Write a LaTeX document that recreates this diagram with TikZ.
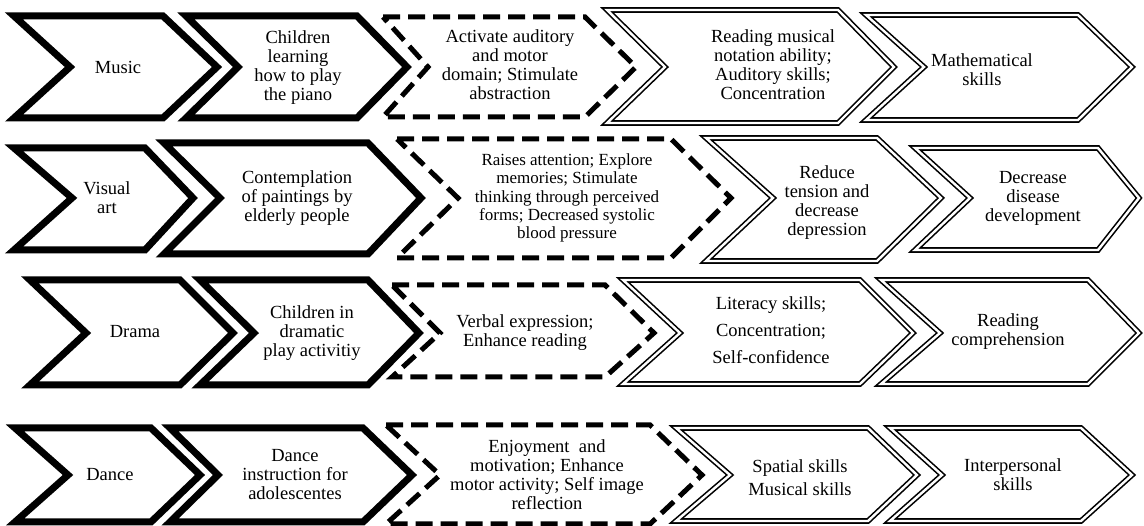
\documentclass[tikz,border=0pt]{standalone}
\usepackage{fontspec}
\setmainfont{Liberation Serif}
\tikzset{
  heavy/.style={line width=7pt,line join=miter},
  dashline/.style={line width=5pt,line join=miter,dash pattern=on 17pt off 8pt},
  twin/.style={line width=1.6pt,double distance=2.4pt,line join=miter},
  lbl/.style={align=center,font=\fontsize{18.5}{19}\selectfont},
}
\begin{document}
\begin{tikzpicture}[x=1pt,y=-1pt]
\useasboundingbox (0,0) rectangle (1144,526);

%row 1 - music
\draw[heavy] (14,16) -- (163,16) -- (217,67) -- (163,118) -- (14,118) -- (70,67) -- cycle;
\draw[heavy] (186,16) -- (357,16) -- (407,67) -- (357,118) -- (186,118) -- (238,67) -- cycle;
\draw[dashline] (383,17) -- (585,17) -- (636,67) -- (585,117) -- (383,117) -- (428,67) -- cycle;
\draw[twin] (607,10) -- (838,10) -- (894,67) -- (838,123) -- (607,123) -- (665,67) -- cycle;
\draw[twin] (866,15) -- (1078,15) -- (1132,67) -- (1078,120) -- (866,120) -- (924,67) -- cycle;

\node[lbl] (music) at (118,67) {Music};
\node[lbl] (piano) at (298,68) {Children\\learning\\how to play\\the piano};
\node[lbl] (auditory) at (510,65) {Activate auditory\\and motor\\domain; Stimulate\\abstraction};
\node[lbl] (notation) at (773,65) {Reading musical\\notation ability;\\Auditory skills;\\Concentration};
\node[lbl] (math) at (982,70) {Mathematical\\skills};

%row 2 - visual art
\draw[heavy] (14,148) -- (145,148) -- (193,198) -- (145,250) -- (14,250) -- (72,198) -- cycle;
\draw[heavy] (164,143) -- (368,143) -- (421,198) -- (368,254) -- (164,254) -- (220,198) -- cycle;
\draw[dashline] (397,139) -- (671,139) -- (731,198) -- (671,258) -- (397,258) -- (458,198) -- cycle;
\draw[twin] (706,138) -- (877,138) -- (941,198) -- (877,261) -- (706,261) -- (773,198) -- cycle;
\draw[twin] (915,148) -- (1098,148) -- (1139,198) -- (1098,250) -- (915,250) -- (970,198) -- cycle;

\node[lbl] (visual) at (107,198) {Visual\\art};
\node[lbl] (paintings) at (297,198) {Contemplation\\of paintings by\\elderly people};
\node[lbl,font=\fontsize{17}{18.3}\selectfont] (attention) at (567,198) {Raises attention; Explore\\memories; Stimulate\\thinking through perceived\\forms; Decreased systolic\\blood pressure};
\node[lbl] (tension) at (827,203) {Reduce\\tension and\\decrease\\depression};
\node[lbl] (disease) at (1033,198) {Decrease\\disease\\development};

%row 3 - drama
\draw[heavy] (30,280) -- (180,280) -- (233,333) -- (180,385) -- (30,385) -- (86,333) -- cycle;
\draw[heavy] (200,280) -- (368,280) -- (419,333) -- (368,385) -- (200,385) -- (254,333) -- cycle;
\draw[dashline] (392,285) -- (605,285) -- (654,333) -- (605,377) -- (392,377) -- (440,333) -- cycle;
\draw[twin] (623,280) -- (860,280) -- (913,333) -- (860,384) -- (623,384) -- (680,333) -- cycle;
\draw[twin] (881,280) -- (1088,280) -- (1139,333) -- (1088,384) -- (881,384) -- (940,333) -- cycle;

\node[lbl] (drama) at (135,332) {Drama};
\node[lbl] (dramatic) at (312,333) {Children in\\dramatic\\play activitiy};
\node[lbl] (verbal) at (525,333) {Verbal expression;\\Enhance reading};
\node[lbl,font=\fontsize{18.5}{27}\selectfont] (literacy) at (771,330) {Literacy skills;\\Concentration;\\Self-confidence};
\node[lbl] (comprehension) at (1008,332) {Reading\\comprehension};

%row 4 - dance
\draw[heavy] (15,428) -- (151,428) -- (200,475) -- (151,522) -- (15,522) -- (68,475) -- cycle;
\draw[heavy] (170,428) -- (363,428) -- (412,475) -- (363,522) -- (170,522) -- (218,475) -- cycle;
\draw[dashline] (386,425) -- (650,425) -- (702,475) -- (650,524) -- (386,524) -- (440,475) -- cycle;
\draw[twin] (676,428) -- (868,428) -- (917,475) -- (868,521) -- (676,521) -- (730,475) -- cycle;
\draw[twin] (890,428) -- (1081,428) -- (1132,475) -- (1081,521) -- (890,521) -- (942,475) -- cycle;

\node[lbl] (dance) at (110,475) {Dance};
\node[lbl] (instruction) at (295,475) {Dance\\instruction for\\adolescentes};
\node[lbl] (enjoyment) at (547,475) {Enjoyment\ \ and\\motivation; Enhance\\motor activity; Self image\\reflection};
\node[lbl,font=\fontsize{18.5}{23}\selectfont] (spatial) at (800,478) {Spatial skills\\Musical skills};
\node[lbl] (interpersonal) at (1013,475) {Interpersonal\\skills};

\end{tikzpicture}
\end{document}
